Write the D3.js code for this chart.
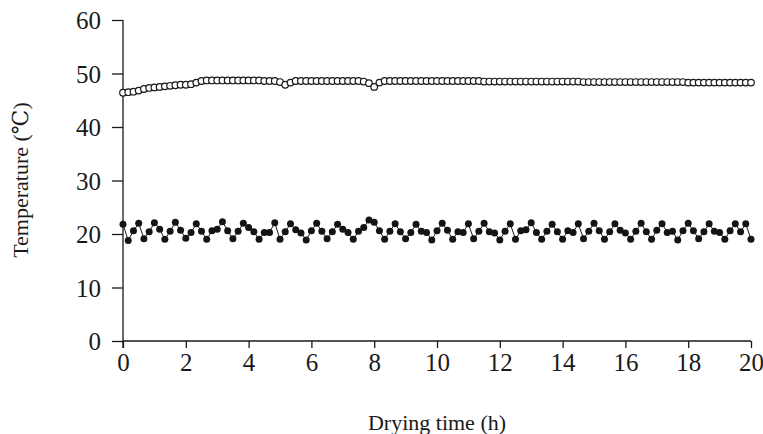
<!DOCTYPE html>
<html>
<head>
<meta charset="utf-8">
<script src="https://cdn.jsdelivr.net/npm/d3@7"></script>
<style>
  body { margin: 0; background: #fff; }
  svg text { font-family: "Liberation Serif", "DejaVu Serif", serif; fill: #1a1a1a; }
  .axis path, .axis line { stroke: #1a1a1a; stroke-width: 1.3; }
</style>
</head>
<body>
<svg id="chart" width="763" height="434"></svg>
<script>
// drying time every 10 min, 0..20 h
var times = d3.range(121).map(function (i) { return i / 6; });

// open circles (upper series)
var upperTemp = [
  46.4, 46.5, 46.6, 46.8, 47.1, 47.3, 47.4, 47.5, 47.6, 47.7, 47.8, 47.9,
  47.9, 48.0, 48.3, 48.6, 48.7, 48.7, 48.7, 48.7, 48.7, 48.7, 48.7, 48.7,
  48.7, 48.7, 48.7, 48.6, 48.6, 48.6, 48.4, 47.9, 48.3, 48.6, 48.6, 48.6,
  48.6, 48.6, 48.6, 48.6, 48.6, 48.6, 48.6, 48.6, 48.6, 48.6, 48.5, 48.2,
  47.5, 48.3, 48.6, 48.6, 48.6, 48.6, 48.6, 48.6, 48.6, 48.6, 48.6, 48.6,
  48.6, 48.6, 48.6, 48.6, 48.6, 48.6, 48.6, 48.6, 48.6, 48.5, 48.5, 48.5,
  48.5, 48.5, 48.5, 48.5, 48.5, 48.5, 48.5, 48.5, 48.5, 48.5, 48.5, 48.5,
  48.5, 48.5, 48.5, 48.5, 48.4, 48.4, 48.4, 48.4, 48.4, 48.4, 48.4, 48.4,
  48.4, 48.4, 48.4, 48.4, 48.4, 48.4, 48.4, 48.4, 48.4, 48.4, 48.4, 48.4,
  48.3, 48.3, 48.3, 48.3, 48.3, 48.3, 48.3, 48.3, 48.3, 48.3, 48.3, 48.3,
  48.3
];

// filled circles (lower series)
var lowerTemp = [
  21.8, 18.8, 20.6, 22.0, 19.1, 20.4, 22.1, 20.9, 19.0, 20.5, 22.2, 20.7,
  19.2, 20.3, 21.9, 20.5, 19.0, 20.6, 20.9, 22.3, 20.6, 19.1, 20.5, 22.0,
  21.2, 20.4, 19.0, 20.3, 20.3, 22.1, 19.0, 20.4, 21.9, 20.8, 20.2, 18.9,
  20.6, 22.0, 20.5, 19.1, 20.4, 21.8, 20.9, 20.3, 19.0, 20.5, 21.2, 22.6,
  22.2, 20.6, 19.0, 20.5, 21.9, 20.4, 19.1, 20.3, 21.8, 20.5, 20.3, 18.9,
  20.6, 22.0, 20.7, 19.0, 20.4, 20.3, 21.9, 19.1, 20.5, 22.0, 20.4, 20.2,
  18.9, 20.5, 21.9, 19.0, 20.6, 20.8, 22.1, 20.3, 19.0, 20.5, 21.8, 20.4,
  19.0, 20.6, 20.3, 21.9, 19.1, 20.5, 22.0, 20.6, 19.0, 20.4, 21.9, 20.7,
  20.2, 19.0, 20.5, 22.0, 20.4, 19.0, 20.7, 21.9, 20.3, 20.5, 18.9, 20.6,
  22.0, 20.6, 19.1, 20.4, 21.9, 20.5, 20.3, 19.0, 20.6, 21.9, 20.4, 21.9,
  19.0
];

var xTicks = [0, 2, 4, 6, 8, 10, 12, 14, 16, 18, 20];
var yTicks = [0, 10, 20, 30, 40, 50, 60];

(function () {
  var svg = d3.select('#chart');
  var mLeft = 123, mRight = 751, mTop = 20, mBottom = 341;

  var x = d3.scaleLinear().domain([0, 20]).range([mLeft, mRight]);
  var y = d3.scaleLinear().domain([0, 60]).range([mBottom, mTop]);

  // axes
  var yAxis = svg.append('g')
    .attr('class', 'axis')
    .attr('transform', 'translate(' + mLeft + ',0)')
    .call(d3.axisLeft(y).tickValues(yTicks).tickSize(11).tickPadding(11).tickSizeOuter(0));
  yAxis.selectAll('text').style('font-size', '25px').attr('dy', '0.34em');
  yAxis.select('.domain').attr('d', 'M0,' + mTop + 'V' + (mBottom + 7));

  var xAxis = svg.append('g')
    .attr('class', 'axis')
    .attr('transform', 'translate(0,' + mBottom + ')')
    .call(d3.axisBottom(x).tickValues(xTicks).tickSize(7).tickPadding(5).tickSizeOuter(0));
  xAxis.selectAll('text').style('font-size', '25px');
  xAxis.select('.domain').attr('d', 'M' + mLeft + ',0H' + mRight);

  // axis titles
  svg.append('text')
    .attr('x', 437)
    .attr('y', 430)
    .attr('text-anchor', 'middle')
    .style('font-size', '22px')
    .text('Drying time (h)');

  svg.append('text')
    .attr('transform', 'translate(28,' + 180 + ') rotate(-90)')
    .attr('text-anchor', 'middle')
    .style('font-size', '22px')
    .text('Temperature (℃)');

  // series
  var line = d3.line()
    .x(function (d) { return x(d[0]); })
    .y(function (d) { return y(d[1]); });

  var lowerData = d3.zip(times, lowerTemp);
  var upperData = d3.zip(times, upperTemp);

  svg.append('path')
    .datum(lowerData)
    .attr('fill', 'none')
    .attr('stroke', '#1a1a1a')
    .attr('stroke-width', 1)
    .attr('d', line);

  svg.append('g').selectAll('circle')
    .data(lowerData)
    .enter().append('circle')
    .attr('cx', function (d) { return x(d[0]); })
    .attr('cy', function (d) { return y(d[1]); })
    .attr('r', 3.5)
    .attr('fill', '#141414');

  svg.append('path')
    .datum(upperData)
    .attr('fill', 'none')
    .attr('stroke', '#1a1a1a')
    .attr('stroke-width', 1)
    .attr('d', line);

  svg.append('g').selectAll('circle')
    .data(upperData)
    .enter().append('circle')
    .attr('cx', function (d) { return x(d[0]); })
    .attr('cy', function (d) { return y(d[1]); })
    .attr('r', 3.3)
    .attr('fill', '#fff')
    .attr('stroke', '#1a1a1a')
    .attr('stroke-width', 1.2);
})();
</script>
</body>
</html>
